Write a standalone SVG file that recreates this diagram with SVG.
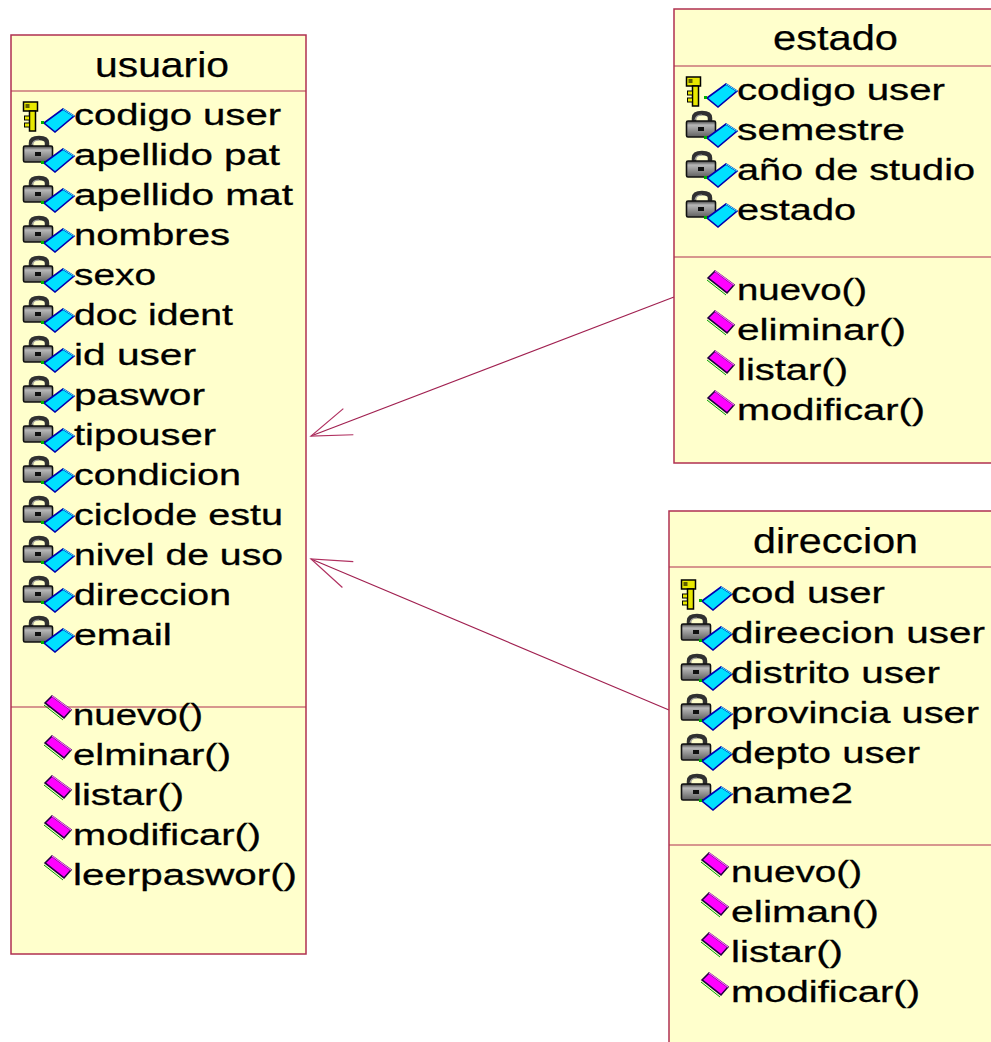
<svg xmlns="http://www.w3.org/2000/svg" xmlns:xlink="http://www.w3.org/1999/xlink" width="991" height="1042" viewBox="0 0 991 1042">
<style>
.box{fill:#ffffcc;stroke:#b03050;stroke-width:1.5}
.sep{stroke:#b03050;stroke-width:1.2}
.title{font-family:"Liberation Sans",Arial,sans-serif;font-size:35px;fill:#000;stroke:#000;stroke-width:0.25}
.item{font-family:"Liberation Sans",Arial,sans-serif;font-size:30px;fill:#000;stroke:#000;stroke-width:0.3}
.conn{fill:none;stroke:#a02050;stroke-width:1.2}
</style>
<defs>
<linearGradient id="lockg" x1="0" y1="0" x2="0" y2="1">
<stop offset="0" stop-color="#404040"/><stop offset="0.25" stop-color="#b8b8b8"/><stop offset="1" stop-color="#606060"/>
</linearGradient>
<g id="cyan">
<polygon points="21,-2 40,-16 51,-9 32,7" fill="#00e0ff" stroke="#0000b0" stroke-width="1.6"/>
<polyline points="40,-16 51,-9" fill="none" stroke="#40ffff" stroke-width="1"/>
<rect x="18" y="-4" width="3" height="3" fill="#00b000"/>
</g>
<g id="key">
<rect x="0.5" y="-23" width="14" height="9" fill="#e8e800" stroke="#000" stroke-width="1.5"/>
<rect x="2.5" y="-21" width="4" height="4" fill="#606000"/>
<rect x="6.5" y="-14" width="6" height="20" fill="#e8e800" stroke="#000" stroke-width="1.5"/>
<rect x="1.5" y="-9" width="5" height="4" fill="#e8e800" stroke="#000" stroke-width="1"/>
<rect x="1.5" y="-2" width="5" height="4" fill="#e8e800" stroke="#000" stroke-width="1"/>
<use href="#cyan"/>
</g>
<g id="lock">
<path d="M8,-18 L8,-22 Q8,-27 16,-27 Q24,-27 24,-22 L24,-18" fill="none" stroke="#303030" stroke-width="4.5"/>
<path d="M9,-20 Q10,-25 16,-25" fill="none" stroke="#a0a0a0" stroke-width="1.2"/>
<rect x="0.5" y="-19" width="29" height="16" rx="1.5" fill="url(#lockg)" stroke="#101010" stroke-width="1.6"/>
<rect x="12" y="-13" width="6" height="4" fill="#101010"/>
<use href="#cyan"/>
</g>
<g id="op">
<polygon points="0,-22 7,-29 26,-15 19,-7" fill="#ff00ff" stroke="#200040" stroke-width="1.6"/>
<polyline points="7,-29 26,-15" fill="none" stroke="#ff60ff" stroke-width="1.2"/>
<polyline points="-1,-20 18,-5" fill="none" stroke="#00a000" stroke-width="1"/>
</g>
<marker id="open" markerUnits="userSpaceOnUse" orient="auto" refX="0" refY="0" markerWidth="60" markerHeight="40" viewBox="-5 -20 60 40" overflow="visible">
<path d="M40,-14 L0,0 L40,14" fill="none" stroke="#b03060" stroke-width="1.2"/>
</marker>
</defs>

<g id="connectors">
<path class="conn" d="M311,436 L674,297" marker-start="url(#open)"/>
<path class="conn" d="M311,559 L669,710" marker-start="url(#open)"/>
</g>

<g id="usuario">
<rect class="box" x="11" y="35" width="295" height="919"/>
<line class="sep" x1="11" y1="91" x2="306" y2="91"/>
<line class="sep" x1="11" y1="707" x2="306" y2="707"/>
<text class="title" x="95" y="77" textLength="134" lengthAdjust="spacingAndGlyphs">usuario</text>
<use href="#key" x="23" y="125"/>
<use href="#lock" x="23" y="165"/>
<use href="#lock" x="23" y="205"/>
<use href="#lock" x="23" y="245"/>
<use href="#lock" x="23" y="285"/>
<use href="#lock" x="23" y="325"/>
<use href="#lock" x="23" y="365"/>
<use href="#lock" x="23" y="405"/>
<use href="#lock" x="23" y="445"/>
<use href="#lock" x="23" y="485"/>
<use href="#lock" x="23" y="525"/>
<use href="#lock" x="23" y="565"/>
<use href="#lock" x="23" y="605"/>
<use href="#lock" x="23" y="645"/>
<text class="item" x="74" y="125" textLength="207" lengthAdjust="spacingAndGlyphs">codigo user</text>
<text class="item" x="74" y="165" textLength="206" lengthAdjust="spacingAndGlyphs">apellido pat</text>
<text class="item" x="74" y="205" textLength="219" lengthAdjust="spacingAndGlyphs">apellido mat</text>
<text class="item" x="74" y="245" textLength="156" lengthAdjust="spacingAndGlyphs">nombres</text>
<text class="item" x="74" y="285" textLength="82" lengthAdjust="spacingAndGlyphs">sexo</text>
<text class="item" x="74" y="325" textLength="159" lengthAdjust="spacingAndGlyphs">doc ident</text>
<text class="item" x="74" y="365" textLength="122" lengthAdjust="spacingAndGlyphs">id user</text>
<text class="item" x="74" y="405" textLength="131" lengthAdjust="spacingAndGlyphs">paswor</text>
<text class="item" x="74" y="445" textLength="142" lengthAdjust="spacingAndGlyphs">tipouser</text>
<text class="item" x="74" y="485" textLength="167" lengthAdjust="spacingAndGlyphs">condicion</text>
<text class="item" x="74" y="525" textLength="209" lengthAdjust="spacingAndGlyphs">ciclode estu</text>
<text class="item" x="74" y="565" textLength="209" lengthAdjust="spacingAndGlyphs">nivel de uso</text>
<text class="item" x="74" y="605" textLength="157" lengthAdjust="spacingAndGlyphs">direccion</text>
<text class="item" x="74" y="645" textLength="98" lengthAdjust="spacingAndGlyphs">email</text>
<use href="#op" x="45" y="725"/>
<use href="#op" x="45" y="765"/>
<use href="#op" x="45" y="805"/>
<use href="#op" x="45" y="845"/>
<use href="#op" x="45" y="885"/>
<text class="item" x="73" y="725" textLength="130" lengthAdjust="spacingAndGlyphs">nuevo()</text>
<text class="item" x="73" y="765" textLength="158" lengthAdjust="spacingAndGlyphs">elminar()</text>
<text class="item" x="73" y="805" textLength="111" lengthAdjust="spacingAndGlyphs">listar()</text>
<text class="item" x="73" y="845" textLength="188" lengthAdjust="spacingAndGlyphs">modificar()</text>
<text class="item" x="73" y="885" textLength="224" lengthAdjust="spacingAndGlyphs">leerpaswor()</text>
</g>

<g id="estado">
<rect class="box" x="674" y="9" width="330" height="454"/>
<line class="sep" x1="674" y1="66" x2="991" y2="66"/>
<line class="sep" x1="674" y1="257" x2="991" y2="257"/>
<text class="title" x="773" y="50" textLength="125" lengthAdjust="spacingAndGlyphs">estado</text>
<use href="#key" x="686" y="100"/>
<use href="#lock" x="686" y="140"/>
<use href="#lock" x="686" y="180"/>
<use href="#lock" x="686" y="220"/>
<text class="item" x="737" y="100" textLength="208" lengthAdjust="spacingAndGlyphs">codigo user</text>
<text class="item" x="737" y="140" textLength="168" lengthAdjust="spacingAndGlyphs">semestre</text>
<text class="item" x="737" y="180" textLength="238" lengthAdjust="spacingAndGlyphs">año de studio</text>
<text class="item" x="737" y="220" textLength="119" lengthAdjust="spacingAndGlyphs">estado</text>
<use href="#op" x="708" y="300"/>
<use href="#op" x="708" y="340"/>
<use href="#op" x="708" y="380"/>
<use href="#op" x="708" y="420"/>
<text class="item" x="737" y="300" textLength="130" lengthAdjust="spacingAndGlyphs">nuevo()</text>
<text class="item" x="737" y="340" textLength="169" lengthAdjust="spacingAndGlyphs">eliminar()</text>
<text class="item" x="737" y="380" textLength="111" lengthAdjust="spacingAndGlyphs">listar()</text>
<text class="item" x="737" y="420" textLength="188" lengthAdjust="spacingAndGlyphs">modificar()</text>
</g>

<g id="direccion">
<rect class="box" x="669" y="511" width="340" height="560"/>
<line class="sep" x1="669" y1="567" x2="991" y2="567"/>
<line class="sep" x1="669" y1="845" x2="991" y2="845"/>
<text class="title" x="753" y="553" textLength="165" lengthAdjust="spacingAndGlyphs">direccion</text>
<use href="#key" x="681" y="603"/>
<use href="#lock" x="681" y="643"/>
<use href="#lock" x="681" y="683"/>
<use href="#lock" x="681" y="723"/>
<use href="#lock" x="681" y="763"/>
<use href="#lock" x="681" y="803"/>
<text class="item" x="731" y="603" textLength="154" lengthAdjust="spacingAndGlyphs">cod user</text>
<text class="item" x="731" y="643" textLength="254" lengthAdjust="spacingAndGlyphs">direecion user</text>
<text class="item" x="731" y="683" textLength="209" lengthAdjust="spacingAndGlyphs">distrito user</text>
<text class="item" x="731" y="723" textLength="248" lengthAdjust="spacingAndGlyphs">provincia user</text>
<text class="item" x="731" y="763" textLength="189" lengthAdjust="spacingAndGlyphs">depto user</text>
<text class="item" x="731" y="803" textLength="122" lengthAdjust="spacingAndGlyphs">name2</text>
<use href="#op" x="702" y="882"/>
<use href="#op" x="702" y="922"/>
<use href="#op" x="702" y="962"/>
<use href="#op" x="702" y="1002"/>
<text class="item" x="731" y="882" textLength="131" lengthAdjust="spacingAndGlyphs">nuevo()</text>
<text class="item" x="731" y="922" textLength="148" lengthAdjust="spacingAndGlyphs">eliman()</text>
<text class="item" x="731" y="962" textLength="112" lengthAdjust="spacingAndGlyphs">listar()</text>
<text class="item" x="731" y="1002" textLength="189" lengthAdjust="spacingAndGlyphs">modificar()</text>
</g>
</svg>
